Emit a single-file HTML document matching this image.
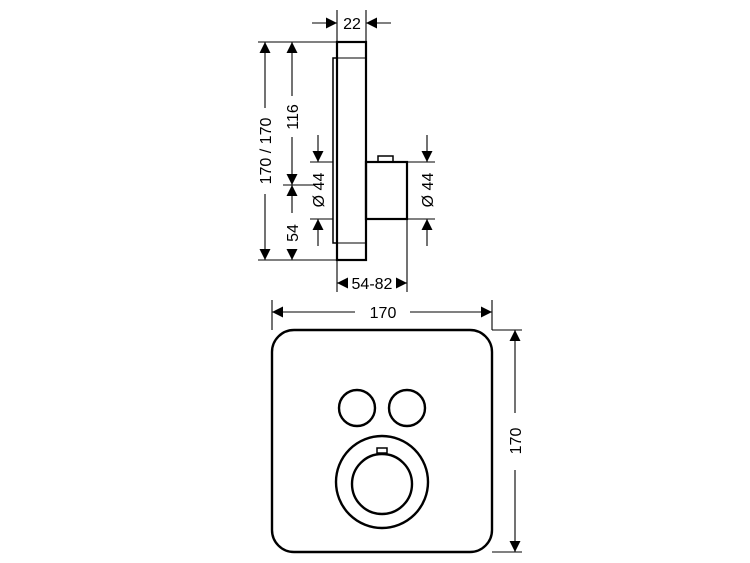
<!DOCTYPE html>
<html><head><style>body{margin:0;background:#fff}svg{display:block}</style></head><body>
<svg width="750" height="563" viewBox="0 0 750 563" xmlns="http://www.w3.org/2000/svg" font-family="Liberation Sans, sans-serif" font-size="16" fill="none" stroke="#000">
<defs><marker id="a" viewBox="0 0 10 10" refX="10" refY="5" markerWidth="11" markerHeight="11" markerUnits="userSpaceOnUse" orient="auto-start-reverse"><path d="M0,0 L10,5 L0,10z" fill="#000" stroke="none"/></marker></defs>
<g stroke-width="2.2">
<rect x="337" y="42" width="29" height="218"/>
<line x1="337" y1="58" x2="366" y2="58" stroke-width="1"/>
<line x1="337" y1="243" x2="366" y2="243" stroke-width="1"/>
<rect x="333" y="58" width="4" height="185" stroke-width="1.5"/>
<rect x="366" y="162" width="41" height="57"/>
<rect x="378" y="156" width="15" height="6" stroke-width="1.5"/>
</g>
<g stroke-width="1.1">
<line x1="337" y1="10" x2="337" y2="42"/><line x1="366" y1="10" x2="366" y2="42"/>
<line x1="312" y1="23" x2="337" y2="23" marker-end="url(#a)"/><line x1="391" y1="23" x2="366" y2="23" marker-end="url(#a)"/>
<line x1="258" y1="42" x2="337" y2="42"/><line x1="258" y1="260" x2="337" y2="260"/>
<line x1="265" y1="42" x2="265" y2="108" marker-start="url(#a)"/><line x1="265" y1="194" x2="265" y2="260" marker-end="url(#a)"/>
<line x1="292" y1="42" x2="292" y2="96" marker-start="url(#a)"/><line x1="292" y1="137" x2="292" y2="185" marker-end="url(#a)"/>
<line x1="292" y1="185" x2="292" y2="213" marker-start="url(#a)"/><line x1="292" y1="252" x2="292" y2="260" marker-end="url(#a)"/>
<line x1="283" y1="185" x2="315" y2="185"/>
<line x1="310" y1="162" x2="333" y2="162"/><line x1="310" y1="219" x2="333" y2="219"/>
<line x1="318" y1="135" x2="318" y2="162" marker-end="url(#a)"/><line x1="318" y1="246" x2="318" y2="219" marker-end="url(#a)"/>
<line x1="407" y1="162" x2="435" y2="162"/><line x1="407" y1="219" x2="435" y2="219"/>
<line x1="427" y1="135" x2="427" y2="162" marker-end="url(#a)"/><line x1="427" y1="246" x2="427" y2="219" marker-end="url(#a)"/>
<line x1="337" y1="260" x2="337" y2="292"/><line x1="407" y1="219" x2="407" y2="292"/>
<line x1="346" y1="283" x2="337" y2="283" marker-end="url(#a)"/><line x1="398" y1="283" x2="407" y2="283" marker-end="url(#a)"/>
</g>
<g fill="#000" stroke="none">
<text x="352" y="29" text-anchor="middle">22</text>
<text x="372" y="289" text-anchor="middle">54-82</text>
<text transform="translate(271,151) rotate(-90)" text-anchor="middle">170 / 170</text>
<text transform="translate(298,117) rotate(-90)" text-anchor="middle">116</text>
<text transform="translate(298,233) rotate(-90)" text-anchor="middle">54</text>
<text transform="translate(324,190) rotate(-90)" text-anchor="middle">Ø 44</text>
<text transform="translate(433,190) rotate(-90)" text-anchor="middle">Ø 44</text>
<text x="383" y="318" text-anchor="middle">170</text>
<text transform="translate(521,441) rotate(-90)" text-anchor="middle">170</text>
</g>
<g stroke-width="2.4">
<rect x="272" y="330" width="220" height="222" rx="22"/>
<circle cx="357" cy="408" r="18"/><circle cx="407" cy="408" r="18"/>
<circle cx="382" cy="482" r="46"/><circle cx="382" cy="484" r="30"/>
<rect x="377" y="448" width="10" height="5" stroke-width="1.5"/>
</g>
<g stroke-width="1.1">
<line x1="272" y1="300" x2="272" y2="330"/><line x1="492" y1="300" x2="492" y2="330"/>
<line x1="272" y1="312" x2="355" y2="312" marker-start="url(#a)"/><line x1="410" y1="312" x2="492" y2="312" marker-end="url(#a)"/>
<line x1="492" y1="330" x2="522" y2="330"/><line x1="492" y1="552" x2="522" y2="552"/>
<line x1="515" y1="330" x2="515" y2="413" marker-start="url(#a)"/><line x1="515" y1="470" x2="515" y2="552" marker-end="url(#a)"/>
</g>
</svg>
</body></html>
